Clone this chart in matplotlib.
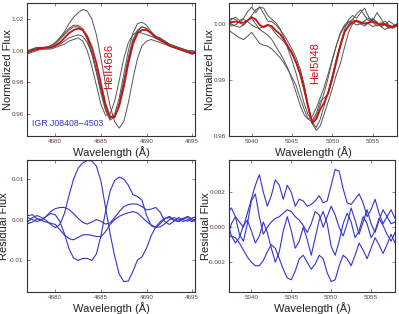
import numpy as np
import matplotlib.pyplot as plt

plt.rcParams['font.family'] = ['Liberation Sans', 'DejaVu Sans']

# ---------------------------------------------------------------------------
# HeII 4686 : wavelength grid and spectra
# ---------------------------------------------------------------------------
WAVE_HE2 = np.arange(4677.0, 4695.6, 0.5)

FLUX_HE2_MEAN = [0.999, 1.000, 1.001, 1.0015, 1.002, 1.002, 1.003, 1.005, 1.008, 1.011,
                 1.013, 1.014, 1.013, 1.009, 1.002, 0.992, 0.979, 0.966, 0.958, 0.958,
                 0.965, 0.977, 0.992, 1.004, 1.011, 1.013, 1.013, 1.011, 1.008, 1.007,
                 1.005, 1.003, 1.002, 1.001, 1.000, 0.999, 0.998, 0.999]

FLUX_HE2_OBS = [
    [0.999, 1.0005, 1.001, 1.001, 1.002, 1.003, 1.005, 1.008, 1.012, 1.017,
     1.021, 1.024, 1.026, 1.025, 1.020, 1.010, 0.995, 0.979, 0.965, 0.955,
     0.951, 0.955, 0.967, 0.982, 0.995, 1.003, 1.006, 1.007, 1.006, 1.005,
     1.004, 1.003, 1.002, 1.001, 1.000, 0.999, 0.999, 1.000],
    [1.000, 1.001, 1.002, 1.002, 1.002, 1.003, 1.005, 1.008, 1.011, 1.014,
     1.016, 1.016, 1.014, 1.008, 0.999, 0.987, 0.974, 0.963, 0.957, 0.960,
     0.970, 0.985, 1.000, 1.011, 1.017, 1.018, 1.016, 1.012, 1.009, 1.007,
     1.005, 1.003, 1.002, 1.001, 1.000, 0.999, 0.998, 0.999],
    [0.998, 0.999, 1.000, 1.001, 1.001, 1.002, 1.003, 1.004, 1.006, 1.008,
     1.009, 1.010, 1.009, 1.005, 0.998, 0.988, 0.976, 0.965, 0.958, 0.958,
     0.966, 0.979, 0.994, 1.006, 1.012, 1.015, 1.014, 1.011, 1.009, 1.008,
     1.006, 1.004, 1.003, 1.002, 1.001, 1.000, 1.000, 0.999],
    [0.999, 1.000, 1.001, 1.001, 1.001, 1.001, 1.002, 1.003, 1.004, 1.006,
     1.007, 1.008, 1.006, 1.000, 0.990, 0.978, 0.966, 0.959, 0.960, 0.968,
     0.981, 0.995, 1.005, 1.010, 1.012, 1.011, 1.010, 1.009, 1.008, 1.006,
     1.005, 1.004, 1.003, 1.002, 1.001, 1.000, 0.999, 0.998],
    [1.000, 1.001, 1.002, 1.002, 1.002, 1.003, 1.004, 1.007, 1.010, 1.013,
     1.015, 1.015, 1.013, 1.007, 0.998, 0.986, 0.973, 0.962, 0.956, 0.958,
     0.967, 0.981, 0.996, 1.007, 1.013, 1.015, 1.014, 1.011, 1.009, 1.007,
     1.006, 1.004, 1.002, 1.001, 1.000, 0.999, 0.998, 0.999],
]

RESID_HE2 = [
    [-0.0005, 0.0005, 0.0010, 0.0005, -0.0002, -0.0012, -0.0020, -0.0012, 0.0015, 0.0060,
     0.0100, 0.0127, 0.0140, 0.0146, 0.0145, 0.0132, 0.0095, 0.0030, -0.0035, -0.0090,
     -0.0135, -0.0153, -0.0152, -0.0128, -0.0100, -0.0092, -0.0070, -0.0040, -0.0018, -0.0005,
     0.0003, 0.0005, -0.0002, -0.0005, 0.0002, 0.0005, -0.0002, -0.0005],
    [0.0005, 0.0000, -0.0005, 0.0000, 0.0008, 0.0015, 0.0012, -0.0005, -0.0035, -0.0072,
     -0.0095, -0.0101, -0.0096, -0.0096, -0.0101, -0.0085, -0.0040, 0.0020, 0.0070, 0.0097,
     0.0105, 0.0100, 0.0085, 0.0062, 0.0057, 0.0048, 0.0010, -0.0015, -0.0020, -0.0010,
     0.0003, 0.0008, 0.0000, -0.0004, 0.0003, 0.0008, 0.0002, -0.0003],
    [0.0010, 0.0012, 0.0002, 0.0000, 0.0008, 0.0020, 0.0027, 0.0030, 0.0030, 0.0025,
     0.0015, 0.0003, -0.0007, -0.0011, -0.0006, 0.0000, -0.0004, -0.0011, -0.0008, 0.0005,
     0.0020, 0.0032, 0.0037, 0.0039, 0.0038, 0.0032, 0.0024, 0.0026, 0.0030, 0.0018,
     -0.0005, -0.0012, -0.0004, 0.0005, 0.0000, -0.0004, 0.0004, 0.0008],
    [-0.0010, -0.0006, 0.0002, -0.0002, -0.0006, -0.0009, -0.0012, -0.0025, -0.0038, -0.0047,
     -0.0050, -0.0044, -0.0038, -0.0037, -0.0039, -0.0042, -0.0042, -0.0030, -0.0012, 0.0000,
     0.0008, 0.0013, 0.0017, 0.0020, 0.0016, 0.0006, -0.0005, -0.0013, -0.0019, -0.0018,
     -0.0010, 0.0000, 0.0005, 0.0001, -0.0005, 0.0000, -0.0005, 0.0003],
]

# ---------------------------------------------------------------------------
# HeI 5048 : wavelength grid and spectra
# ---------------------------------------------------------------------------
WAVE_HE1 = np.arange(5037.0, 5058.1, 0.5)

FLUX_HE1_MEAN = [1.0000, 1.0003, 1.0004, 1.0003, 1.0002, 1.0006, 1.0012, 1.0008, 0.9998, 0.9994,
                 0.9998, 0.9996, 0.9988, 0.9982, 0.9972, 0.9960, 0.9948, 0.9932, 0.9912, 0.9885,
                 0.9852, 0.9823, 0.9830, 0.9848, 0.9860, 0.9878, 0.9905, 0.9935, 0.9962, 0.9985,
                 0.9996, 1.0003, 1.0006, 1.0003, 1.0000, 1.0002, 1.0004, 1.0001, 0.9998, 1.0000,
                 0.9996, 0.9995, 0.9998]

FLUX_HE1_OBS = [
    [0.9995, 1.0008, 1.0012, 1.0006, 1.0010, 1.0022, 1.0030, 1.0020, 1.0030, 1.0018,
     1.0005, 1.0004, 0.9998, 0.9990, 0.9980, 0.9968, 0.9955, 0.9940, 0.9920, 0.9892,
     0.9855, 0.9825, 0.9815, 0.9830, 0.9855, 0.9880, 0.9908, 0.9938, 0.9965, 0.9990,
     1.0008, 1.0015, 1.0010, 1.0020, 1.0028, 1.0012, 1.0005, 1.0020, 1.0010, 0.9998,
     0.9992, 0.9995, 1.0000],
    [0.9990, 0.9985, 0.9980, 0.9975, 0.9972, 0.9978, 0.9985, 0.9975, 0.9965, 0.9962,
     0.9960, 0.9955, 0.9948, 0.9940, 0.9930, 0.9918, 0.9905, 0.9890, 0.9868, 0.9848,
     0.9830, 0.9825, 0.9835, 0.9855, 0.9878, 0.9905, 0.9935, 0.9962, 0.9985, 0.9998,
     1.0005, 1.0002, 0.9998, 1.0000, 1.0004, 1.0000, 0.9995, 0.9998, 1.0002, 0.9998,
     0.9994, 0.9996, 1.0000],
    [1.0005, 1.0010, 1.0008, 1.0002, 0.9998, 1.0005, 1.0015, 1.0025, 1.0030, 1.0028,
     1.0015, 1.0008, 1.0002, 0.9992, 0.9975, 0.9955, 0.9935, 0.9912, 0.9885, 0.9858,
     0.9838, 0.9828, 0.9840, 0.9862, 0.9868, 0.9875, 0.9900, 0.9930, 0.9960, 0.9985,
     0.9998, 1.0008, 1.0018, 1.0025, 1.0015, 1.0005, 1.0010, 1.0002, 0.9995, 0.9998,
     1.0005, 1.0000, 0.9995],
    [1.0000, 0.9996, 0.9998, 1.0004, 1.0008, 1.0004, 0.9998, 0.9994, 0.9992, 0.9996,
     0.9999, 0.9992, 0.9982, 0.9975, 0.9968, 0.9958, 0.9946, 0.9930, 0.9908, 0.9880,
     0.9850, 0.9822, 0.9810, 0.9818, 0.9840, 0.9862, 0.9885, 0.9910, 0.9930, 0.9958,
     0.9985, 1.0000, 1.0005, 1.0000, 0.9996, 1.0002, 1.0008, 1.0004, 0.9995, 0.9990,
     0.9994, 0.9992, 0.9996],
    [1.0002, 1.0000, 0.9996, 0.9994, 0.9998, 1.0006, 1.0010, 1.0000, 0.9990, 0.9985,
     0.9980, 0.9972, 0.9960, 0.9948, 0.9935, 0.9920, 0.9900, 0.9878, 0.9855, 0.9838,
     0.9830, 0.9835, 0.9850, 0.9868, 0.9888, 0.9912, 0.9938, 0.9962, 0.9982, 0.9995,
     1.0002, 1.0008, 1.0004, 1.0000, 1.0006, 1.0010, 1.0003, 0.9996, 1.0000, 1.0005,
     0.9998, 0.9994, 0.9998],
]

# residuals in units of 1e-3
RESID_HE1_MILLI = [
    [-0.6, 0.2, 0.6, 0.3, 0.0, 0.8, 1.6, 2.4, 3.0, 2.0,
     1.2, 1.8, 2.7, 2.4, 1.6, 2.4, 2.0, 1.2, 1.6, 1.5,
     1.2, 1.3, 1.5, 1.8, 1.4, 1.5, 2.4, 3.3, 3.2, 2.2,
     1.4, 1.3, 1.6, 1.9, 1.4, 0.6, 1.0, 1.6, 0.8, 0.2,
     0.6, 1.0, 0.5],
    [0.8, 1.1, 0.6, -0.4, -0.8, 0.2, 1.5, 1.9, 0.6, -0.4,
     0.0, 0.3, 0.5, 0.6, 0.8, 1.0, 0.9, 0.6, 0.4, 0.1,
     -0.3, 0.2, 0.9, 0.7, 0.0, 0.6, 1.2, 0.7, 0.0, -0.5,
     0.2, 1.1, 0.4, -0.4, 0.3, 1.0, 0.2, -0.3, 0.4, 1.0,
     0.6, 0.2, 0.3],
    [-0.6, -0.5, -0.6, -0.9, -1.3, -1.7, -2.0, -2.2, -2.2, -1.9,
     -1.4, -1.0, -1.2, -1.8, -2.4, -2.9, -3.0, -2.5, -1.8, -1.6,
     -2.0, -2.4, -2.1, -1.6, -1.8, -2.6, -3.1, -3.0, -2.2, -1.6,
     -1.8, -2.2, -1.6, -0.9, -1.3, -1.8, -1.2, -0.6, -1.0, -1.5,
     -1.0, -0.4, -0.9],
    [0.3, -0.5, -0.9, -0.6, 0.1, 0.4, -0.2, -0.9, -0.5, 0.3,
     -0.3, -1.2, -2.0, -1.4, -0.2, 0.6, -0.2, -1.2, -0.8, 0.0,
     -0.7, -1.6, -0.6, 0.4, 0.9, 0.2, -1.1, -1.6, -0.8, 0.2,
     0.8, 0.3, -0.6, -0.2, 0.6, 0.2, -0.6, -0.2, 0.5, 0.1,
     -0.4, -0.8, -0.3],
]

GRAY = '#555555'
RED = '#cc1010'
BLUE = '#3434cc'
TICK_COLOR = '#5e4040'
LABEL_SIZE = 8


def style_axes(ax):
    for sp in ax.spines.values():
        sp.set_color('#333333')
        sp.set_linewidth(0.8)
    ax.tick_params(direction='in', length=2, width=0.5, top=True, right=True,
                   labelsize=4.5, labelcolor=TICK_COLOR, color='#555555', pad=2.5)


fig = plt.figure(figsize=(3.99, 3.14), dpi=100)
ax1 = fig.add_axes([0.0677, 0.567, 0.421, 0.423])
ax2 = fig.add_axes([0.574, 0.567, 0.421, 0.423])
ax3 = fig.add_axes([0.0677, 0.070, 0.421, 0.420])
ax4 = fig.add_axes([0.574, 0.070, 0.416, 0.420])

# top-left: HeII 4686
for f in FLUX_HE2_OBS:
    ax1.plot(WAVE_HE2, f, color=GRAY, lw=0.7)
ax1.plot(WAVE_HE2, FLUX_HE2_MEAN, color=RED, lw=1.3)
ax1.set_xlim(4676.9, 4695.3)
ax1.set_ylim(0.946, 1.030)
ax1.set_yticks([0.96, 0.98, 1.00, 1.02])
ax1.set_yticklabels(['0.96', '0.98', '1.00', '1.02'])
ax1.set_xticks([4680, 4685, 4690, 4695])
ax1.text(4685.9, 0.990, 'HeII4686', color=RED, rotation=90, fontsize=8,
         ha='center', va='center')
ax1.text(0.03, 0.06, 'IGR J08408\u22124503', color=BLUE, fontsize=6.3,
         transform=ax1.transAxes, ha='left', va='bottom')

# top-right: HeI 5048
for f in FLUX_HE1_OBS:
    ax2.plot(WAVE_HE1, f, color=GRAY, lw=0.7)
ax2.plot(WAVE_HE1, FLUX_HE1_MEAN, color=RED, lw=1.3)
ax2.set_xlim(5037.2, 5058.0)
ax2.set_ylim(0.980, 1.0037)
ax2.set_yticks([0.98, 0.99, 1.00])
ax2.set_yticklabels(['0.98', '0.99', '1.00'])
ax2.set_xticks([5040, 5045, 5050, 5055])
ax2.text(5047.8, 0.993, 'HeI5048', color=RED, rotation=90, fontsize=8,
         ha='center', va='center')

# bottom-left: residuals HeII
for r in RESID_HE2:
    ax3.plot(WAVE_HE2, r, color=BLUE, lw=0.8)
ax3.set_xlim(4676.9, 4695.3)
ax3.set_ylim(-0.0179, 0.0147)
ax3.set_yticks([-0.01, 0.0, 0.01])
ax3.set_yticklabels(['-0.01', '0.00', '0.01'])
ax3.set_xticks([4680, 4685, 4690, 4695])

# bottom-right: residuals HeI
for r in RESID_HE1_MILLI:
    ax4.plot(WAVE_HE1, np.array(r) * 1e-3, color=BLUE, lw=0.8)
ax4.set_xlim(5037.2, 5058.0)
ax4.set_ylim(-0.0037, 0.00383)
ax4.set_yticks([-0.002, 0.0, 0.002])
ax4.set_yticklabels(['-0.002', '0.000', '0.002'])
ax4.set_xticks([5040, 5045, 5050, 5055])

for ax in (ax1, ax2, ax3, ax4):
    style_axes(ax)
    ax.set_xlabel('Wavelength (\u00c5)', fontsize=LABEL_SIZE, color='#222222', labelpad=1)

ax1.set_ylabel('Normalized Flux', fontsize=LABEL_SIZE, color='#222222')
ax2.set_ylabel('Normalized Flux', fontsize=LABEL_SIZE, color='#222222')
ax3.set_ylabel('Residual Flux', fontsize=LABEL_SIZE, color='#222222')
ax4.set_ylabel('Residual Flux', fontsize=LABEL_SIZE, color='#222222')
ax1.yaxis.set_label_coords(-0.085, 0.5)
ax2.yaxis.set_label_coords(-0.085, 0.5)
ax3.yaxis.set_label_coords(-0.105, 0.5)
ax4.yaxis.set_label_coords(-0.11, 0.5)

fig.savefig('out.png', dpi=100)
